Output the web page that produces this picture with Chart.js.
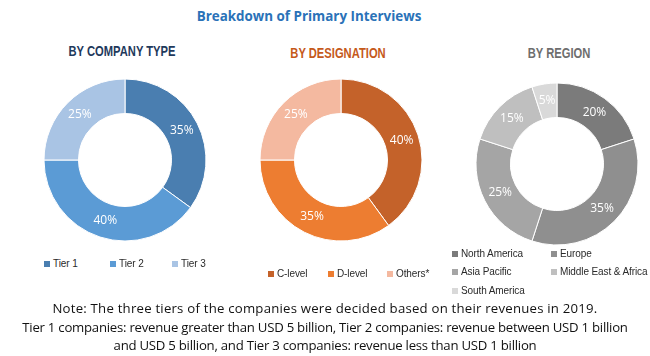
<!DOCTYPE html>
<html>
<head>
<meta charset="utf-8">
<script src="https://cdn.jsdelivr.net/npm/chart.js@4.4.1/dist/chart.umd.min.js"></script>
<style>
  html,body{margin:0;padding:0;background:#fff;}
  #wrap{position:relative;width:650px;height:356px;overflow:hidden;font-family:"Open Sans","Liberation Sans",sans-serif;}
  .abs{position:absolute;}
  .title{left:0;width:618px;top:7px;text-align:center;font:bold 13.4px "Open Sans",sans-serif;color:#2a72b8;}
  .sub{font-family:"Liberation Sans",sans-serif;font-weight:bold;font-size:14px;text-align:center;width:200px;transform:scaleX(0.8);transform-origin:center;}
  .leg{font-family:"Liberation Sans",sans-serif;font-size:10px;color:#2a2a2a;white-space:nowrap;line-height:12px;letter-spacing:-0.1px;}
  .leg span.b{display:inline-block;width:6px;height:6px;margin-right:3px;vertical-align:0px;}
  .note{left:0;width:650px;text-align:center;font:13.2px "Open Sans",sans-serif;color:#111;line-height:18.5px;letter-spacing:-0.25px;}
  canvas{position:absolute;}
</style>
</head>
<body>
<div id="wrap">
  <div class="abs title">Breakdown of Primary Interviews</div>
  <div class="abs sub" style="left:22px;top:43px;color:#1f3a5c;">BY COMPANY TYPE</div>
  <div class="abs sub" style="left:238px;top:45px;color:#c5591a;">BY DESIGNATION</div>
  <div class="abs sub" style="left:459px;top:45px;color:#6e6e6e;">BY REGION</div>
  <canvas id="c1" width="170" height="170" style="left:40px;top:75px;width:170px;height:170px;"></canvas>
  <canvas id="c2" width="170" height="170" style="left:256px;top:75px;width:170px;height:170px;"></canvas>
  <canvas id="c3" width="170" height="170" style="left:472px;top:79px;width:170px;height:170px;"></canvas>
  <div id="legends"></div>
  <div class="abs note" style="top:299px;"><span style="letter-spacing:0.22px;">Note: The three tiers of the companies were decided based on their revenues in 2019.</span><br>Tier 1 companies: revenue greater than USD 5 billion, Tier 2 companies: revenue between USD 1 billion<br>and USD 5 billion, and Tier 3 companies: revenue less than USD 1 billion</div>
</div>
<script>
// ---- data ----
const companyLabels = ["Tier 1", "Tier 2", "Tier 3"];
const companyValues = [35, 40, 25];
const designationLabels = ["C-level", "D-level", "Others*"];
const designationValues = [40, 35, 25];
const regionLabels = ["North America", "Europe", "Asia Pacific", "Middle East & Africa", "South America"];
const regionValues = [20, 35, 25, 15, 5];

// ---- styles ----
const companyColors = ["#4a7eb0", "#5b9bd5", "#a9c4e4"];
const designationColors = ["#c4622a", "#ed7d31", "#f4b9a0"];
const regionColors = ["#7b7b7b", "#8f8f8f", "#a5a5a5", "#bfbfbf", "#d9d9d9"];

const pctLabels = {
  id: 'pctLabels',
  afterDatasetsDraw(chart) {
    const ctx = chart.ctx;
    const meta = chart.getDatasetMeta(0);
    const vals = chart.data.datasets[0].data;
    ctx.save();
    ctx.font = '12px "Open Sans", sans-serif';
    ctx.fillStyle = '#ffffff';
    ctx.textAlign = 'center';
    ctx.textBaseline = 'middle';
    meta.data.forEach((arc, i) => {
      const p = arc.tooltipPosition();
      ctx.fillText(vals[i] + '%', p.x, p.y);
    });
    ctx.restore();
  }
};

function makeChart(id, labels, values, colors) {
  return new Chart(document.getElementById(id), {
    type: 'doughnut',
    data: { labels: labels, datasets: [{ data: values, backgroundColor: colors, borderColor: '#ffffff', borderWidth: 1 }] },
    options: {
      responsive: false,
      animation: false,
      radius: 81,
      cutout: 48.5,
      layout: { padding: 0 },
      plugins: { legend: { display: false }, tooltip: { enabled: false } }
    },
    plugins: [pctLabels]
  });
}
makeChart('c1', companyLabels, companyValues, companyColors);
makeChart('c2', designationLabels, designationValues, designationColors);
makeChart('c3', regionLabels, regionValues, regionColors);

// ---- HTML legends ----
const legendLayout = [
  { labels: companyLabels, colors: companyColors, pos: [[44,258],[110,258],[172,258]] },
  { labels: designationLabels, colors: designationColors, pos: [[268,268],[328,268],[387,268]] },
  { labels: regionLabels, colors: regionColors, pos: [[452,248],[551,248],[452,266],[551,266],[452,285]] }
];
const legRoot = document.getElementById('legends');
legendLayout.forEach(g => {
  g.labels.forEach((lab, i) => {
    const d = document.createElement('div');
    d.className = 'abs leg';
    d.style.left = g.pos[i][0] + 'px';
    d.style.top = g.pos[i][1] + 'px';
    d.innerHTML = '<span class="b" style="background:' + g.colors[i] + '"></span>' + lab.replace('&', '&amp;');
    legRoot.appendChild(d);
  });
});
</script>
</body>
</html>
